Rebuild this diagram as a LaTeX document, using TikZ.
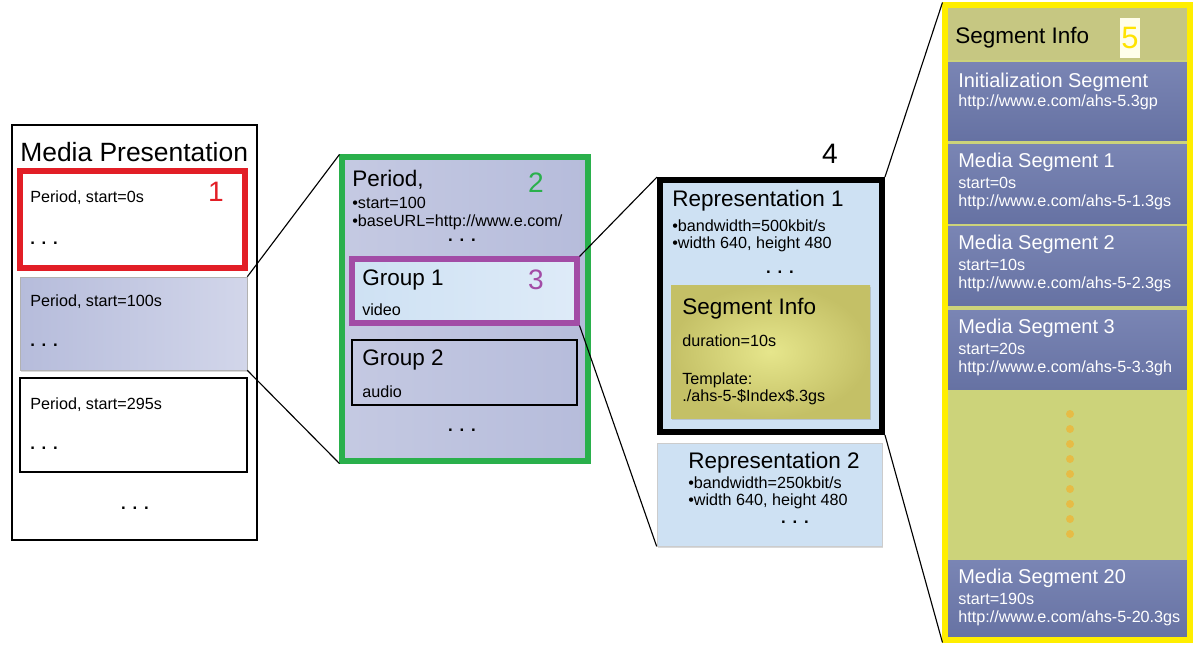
\documentclass[tikz,border=0pt]{standalone}
\usepackage{fontspec}
\setmainfont{Liberation Sans}
\usetikzlibrary{fit,shadows}

\definecolor{mpred}{RGB}{226,30,38}
\definecolor{mpgreen}{RGB}{42,176,76}
\definecolor{mppurple}{RGB}{162,76,166}
\definecolor{mpyellow}{RGB}{255,238,0}
\definecolor{lavender}{RGB}{182,188,219}
\definecolor{lavlight}{RGB}{210,214,234}
\definecolor{iceblue}{RGB}{206,225,243}
\definecolor{icelight}{RGB}{222,235,248}
\definecolor{olivedark}{RGB}{196,192,102}
\definecolor{olivelight}{RGB}{230,230,140}
\definecolor{slate}{RGB}{102,114,163}
\definecolor{slatelight}{RGB}{122,133,180}
\definecolor{panelgreen}{RGB}{204,211,122}
\definecolor{panelhead}{RGB}{198,199,130}
\definecolor{bead}{RGB}{230,188,70}

\tikzstyle{box}=[inner sep=0pt, draw=black, line width=.9pt]
\tikzstyle{txt}=[inner sep=0pt, anchor=west]
\tikzstyle{big}=[txt, font=\fontsize{18.8}{22}\selectfont]
\tikzstyle{title}=[txt, font=\fontsize{16}{19}\selectfont]
\tikzstyle{medium}=[txt, font=\fontsize{14.2}{17}\selectfont]
\tikzstyle{small}=[txt, font=\fontsize{11.5}{13}\selectfont]
\tikzstyle{number}=[inner sep=0pt, font=\fontsize{20}{22}\selectfont]
\tikzstyle{etc}=[inner sep=0pt, font=\fontsize{12}{14}\selectfont\bfseries]
\tikzstyle{soft shadow}=[drop shadow={opacity=.3, shadow xshift=1pt, shadow yshift=-1.5pt}]
\tikzstyle{slatebox}=[inner sep=0pt, top color=slatelight, bottom color=slate]

\newcommand{\etcdots}{.\hspace{.4em}.\hspace{.4em}.}

\begin{document}
\begin{tikzpicture}[x=.025cm, y=-.025cm]
    \useasboundingbox (0,0) rectangle (1194,645);

    % Media Presentation
    \node[box, fit={(12,125) (257,540)}] (mp) {};
    \draw (20,152) node[big] (mptitle) {Media Presentation};

    % Periods
    \node[box, draw=mpred, line width=3.6pt, fit={(20,171) (245,268)}] (per0) {};
    \draw (30,198) node[small] (per0a) {Period, start=0s};
    \draw (30,243) node[etc, anchor=west] (per0b) {\etcdots};
    \draw (216,192) node[number, mpred] (n1) {1};

    \node[box, draw=gray!60, line width=.5pt, left color=lavender, right color=lavlight,
      soft shadow, fit={(20,277) (247,370)}] (per1) {};
    \draw (30,302) node[small] (per1a) {Period, start=100s};
    \draw (30,345) node[etc, anchor=west] (per1b) {\etcdots};

    \node[box, fit={(20,378) (247,472)}] (per2) {};
    \draw (30,405) node[small] (per2a) {Period, start=295s};
    \draw (30,448) node[etc, anchor=west] (per2b) {\etcdots};

    \draw (135,508) node[etc] (mpetc) {\etcdots};

    % Period detail
    \node[box, draw=mpgreen, line width=3.6pt, left color=lavender!80!white,
      right color=lavender, fit={(342,157) (588,461)}] (period) {};
    \draw (352,180) node[title] (pertitle) {Period,};
    \draw (536,183) node[number, mpgreen] (n2) {2};
    \draw (352,203) node[small] (perstart) {\textbullet start=100};
    \draw (352,222) node[small] (perurl) {\textbullet baseURL=http://www.e.com/};
    \draw (462,240) node[etc] (peretc) {\etcdots};

    % Groups
    \node[box, draw=mppurple, line width=3.6pt, left color=iceblue, right color=icelight,
      fit={(352,259) (577,323)}] (grp1) {};
    \draw (362,280) node[title] (grp1a) {Group 1};
    \draw (536,280) node[number, mppurple] (n3) {3};
    \draw (362,310) node[small] (grp1b) {video};

    \node[box, fit={(352,340) (577,405)}] (grp2) {};
    \draw (362,360) node[title] (grp2a) {Group 2};
    \draw (362,392) node[small] (grp2b) {audio};
    \draw (462,430) node[etc] (grpetc) {\etcdots};

    % Representations
    \node[box, line width=4.2pt, fill=iceblue, fit={(660,180) (882,432)}] (rep1) {};
    \draw (830,154) node[number] (n4) {4};
    \draw (672,201) node[title] (rep1a) {Representation 1};
    \draw (672,226) node[small] (rep1b) {\textbullet bandwidth=500kbit/s};
    \draw (672,244) node[small] (rep1c) {\textbullet width 640, height 480};
    \draw (780,272) node[etc] (rep1etc) {\etcdots};

    \node[inner sep=0pt, inner color=olivelight, outer color=olivedark, soft shadow,
      fit={(671,285) (870,418)}] (seg) {};
    \draw (682,309) node[title] (sega) {Segment Info};
    \draw (682,341) node[small] (segb) {duration=10s};
    \draw (682,380) node[small] (segc) {Template:};
    \draw (682,397) node[small] (segd) {./ahs-5-\$Index\$.3gs};

    \node[box, draw=gray!40, line width=.5pt, fill=iceblue, soft shadow,
      fit={(657,443) (882,546)}] (rep2) {};
    \draw (688,463) node[title] (rep2a) {Representation 2};
    \draw (688,483) node[small] (rep2b) {\textbullet bandwidth=250kbit/s};
    \draw (688,501) node[small] (rep2c) {\textbullet width 640, height 480};
    \draw (795,522) node[etc] (rep2etc) {\etcdots};

    % Segment Info panel
    \node[inner sep=0pt, fill=panelgreen, fit={(945,5) (1190,640)}] (panel) {};
    \node[inner sep=0pt, fill=panelhead, fit={(948,8) (1187,60)}] (head) {};
    \draw (955,38) node[title] (heada) {Segment Info};
    \draw (1130,38) node[number, fill=yellow!8, text=mpyellow!90!orange, minimum width=20*.025cm,
      minimum height=40*.025cm, font=\fontsize{22}{24}\selectfont] (n5) {5};

    \node[slatebox, fit={(948,62) (1187,140)}] (init) {};
    \draw (958,82) node[medium, white] (inita) {Initialization Segment};
    \draw (958,102) node[small, white] (initb) {http://www.e.com/ahs-5.3gp};

    \foreach \n/\s/\ya/\file in {1/0/144/1.3gs, 2/10/226/2.3gs, 3/20/310/3.3gh, 20/190/560/20.3gs} {
      \node[slatebox, fit={(948,\ya) (1187,\ya+79)}] (ms\n) {};
      \draw (958,\ya+18) node[medium, white] (ms\n a) {Media Segment \n};
      \draw (958,\ya+39) node[small, white] (ms\n b) {start=\s s};
      \draw (958,\ya+58) node[small, white] (ms\n c) {http://www.e.com/ahs-5-\file};
    }

    % beads
    \foreach \k in {0,...,8}
      \fill[bead] (1070,414+\k*15) circle (4);

    \node[inner sep=0pt, draw=mpyellow, line width=3.6pt, fit={(945,5) (1190,640)}] (panelframe) {};

    % Zoom lines
    \draw[line width=.8pt] (per1.north east) -- (period.north west);
    \draw[line width=.8pt] (per1.south east) -- (period.south west);
    \draw[line width=.8pt] (grp1.north east) -- (rep1.north west);
    \draw[line width=.8pt] (grp1.south east) -- (rep2.south west);
    \draw[line width=.8pt] (rep1.north east) -- (panelframe.north west);
    \draw[line width=.8pt] (rep1.south east) -- (panelframe.south west);
\end{tikzpicture}
\end{document}
